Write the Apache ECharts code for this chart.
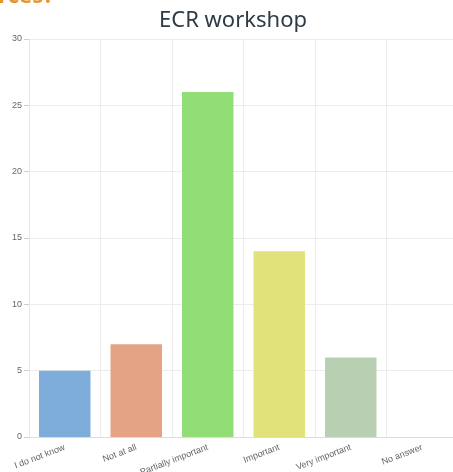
<!DOCTYPE html>
<html>
<head>
<meta charset="utf-8">
<script src="https://cdn.jsdelivr.net/npm/echarts@6/dist/echarts.min.js"></script>
<style>
  html, body { margin: 0; padding: 0; background: #fff; }
  #chart { width: 453px; height: 472px; }
</style>
</head>
<body>
<div id="chart"></div>
<script>
// Survey answers for the ECR workshop question
const categories = ['I do not know', 'Not at all', 'Partially important', 'Important', 'Very important', 'No answer'];
const counts = [5, 7, 26, 14, 6, 0];
const barColors = ['#7eaddb', '#e3a384', '#93dd77', '#e1e37a', '#b8cfb1', '#c8c8c8'];

const chart = echarts.init(document.getElementById('chart'));
chart.setOption({
  animation: false,
  title: {
    text: 'ECR workshop',
    left: 228,
    textAlign: 'center',
    top: 5,
    textStyle: { fontFamily: 'Noto Sans', fontSize: 22, fontWeight: 'normal', color: '#2e3a44' }
  },
  graphic: [{
    type: 'text',
    left: -16,
    top: -14,
    style: { text: 'urces?', fill: '#e8952e', font: 'bold 22px "Noto Sans"' }
  }],
  grid: { left: 29, top: 39, width: 429, height: 398, containLabel: false, outerBoundsMode: 'none' },
  xAxis: {
    type: 'category',
    data: categories,
    boundaryGap: true,
    axisLine: { show: true, lineStyle: { color: '#dcdcdc' } },
    axisTick: { show: false },
    splitLine: { show: true, lineStyle: { color: '#ececec' } },
    axisLabel: {
      rotate: 21,
      interval: 0,
      margin: 10,
      color: '#666',
      fontSize: 9,
      fontFamily: 'Liberation Sans'
    }
  },
  yAxis: {
    type: 'value',
    min: 0,
    max: 30,
    interval: 5,
    axisLine: { show: true, lineStyle: { color: '#e6e6e6' } },
    axisTick: { show: true, length: 5, lineStyle: { color: '#cfcfcf' } },
    splitLine: { show: true, lineStyle: { color: '#ececec' } },
    axisLabel: { color: '#666', fontSize: 9, fontFamily: 'Liberation Sans', margin: 7 }
  },
  series: [{
    type: 'bar',
    data: counts.map((v, i) => ({ value: v, itemStyle: { color: barColors[i] } })),
    barWidth: '72%'
  }]
});
</script>
</body>
</html>
